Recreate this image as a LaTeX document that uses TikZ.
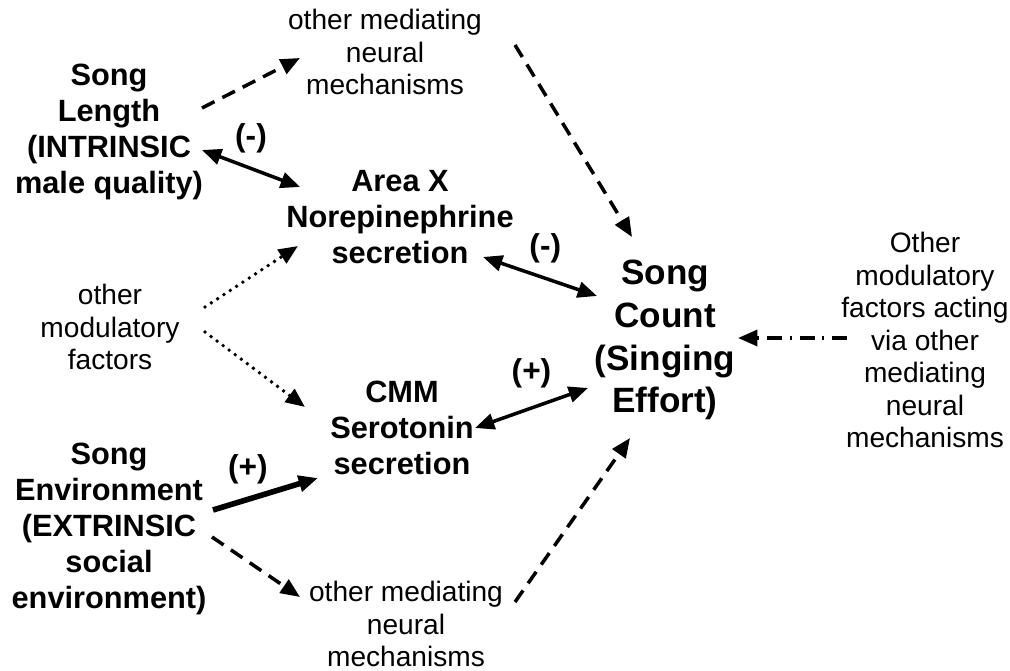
\documentclass[tikz,border=0pt]{standalone}
\usepackage{fontspec}
\setmainfont{Liberation Sans}
\usetikzlibrary{calc}
\usetikzlibrary{positioning}
\usetikzlibrary{arrows.meta}

\begin{document}
\begin{tikzpicture}[x=0.02cm, y=-0.02cm,
    every node/.style={align=center, inner sep=0pt},
    txt/.style={font=\fontsize{16}{18.5}\selectfont},
    bld/.style={font=\bfseries\fontsize{17.5}{20.4}\selectfont},
    big/.style={font=\bfseries\fontsize{20}{24.4}\selectfont},
    sign/.style={font=\bfseries\fontsize{18}{20}\selectfont},
    link/.style={line width=2pt, -{Triangle[length=11pt,width=9pt]}},
    both/.style={link, {Triangle[length=11pt,width=9pt]}-{Triangle[length=11pt,width=9pt]}},
    dsh/.style={link, dash pattern=on 8pt off 5pt},
    dots/.style={link, line width=2.2pt, line cap=round, dash pattern=on 0pt off 4.3pt},
    dshdot/.style={link, dash pattern=on 8.5pt off 4.5pt on 1pt off 4.5pt}]
  \useasboundingbox (0,0) rectangle (1010,671);

  \node [big] (sc) at (665,340) {Song\\Count\\(Singing\\Effort)};

  \node [bld] (sl) at (109,132) {Song\\Length\\(INTRINSIC\\male quality)};
  \node [bld] (se) at (109,529) {Song\\Environment\\(EXTRINSIC\\social\\environment)};
  \node [txt] (omf) at (110,327) {other\\modulatory\\factors};

  \node [bld] (ax) at (400,217) {Area X\\Norepinephrine\\secretion};
  \node [bld] (cmm) at (402,428) {CMM\\Serotonin\\secretion};
  \node [txt] (om1) at (385,52) {other mediating\\neural\\mechanisms};
  \node [txt] (om2) at (406,624) {other mediating\\neural\\mechanisms};

  \node [txt] (of) at (925,340) {Other\\modulatory\\factors acting\\via other\\mediating\\neural\\mechanisms};

  % intrinsic side
  \draw [dsh] ($(sl)+(93,-24)$) -- ($(om1)+(-85,6)$);
  \draw [both] ($(sl)+(93,18)$) -- node[sign, yshift=17pt] (m1) {(-)} ($(ax)+(-100,-30)$);
  \draw [dsh] ($(om1)+(130,-7)$) -- ($(sc)+(-33,-103)$);
  \draw [both] ($(ax)+(83,40)$) -- node[sign, xshift=3pt, yshift=16pt] (m2) {(-)} ($(sc)+(-68,-44)$);

  % modulatory factors
  \draw [dots] ($(omf)+(95,-20)$) -- ($(ax)+(-102,29)$);
  \draw [dots] ($(omf)+(95,5)$) -- ($(cmm)+(-97,-21)$);

  % extrinsic side
  \draw [both] ($(cmm)+(73,0)$) -- node[sign, yshift=20pt] (p1) {(+)} ($(sc)+(-77,48)$);
  \draw [link, line width=3.2pt] ($(se)+(104,-19)$) -- node[sign, xshift=-10pt, yshift=14pt] (p2) {(+)} ($(cmm)+(-84,50)$);
  \draw [dsh] ($(se)+(103,8)$) -- ($(om2)+(-106,-27)$);
  \draw [dsh] ($(om2)+(109,-22)$) -- ($(sc)+(-35,98)$);

  \draw [dshdot] ($(of)+(-78,-2)$) -- ($(sc)+(73,-2)$);
\end{tikzpicture}
\end{document}
